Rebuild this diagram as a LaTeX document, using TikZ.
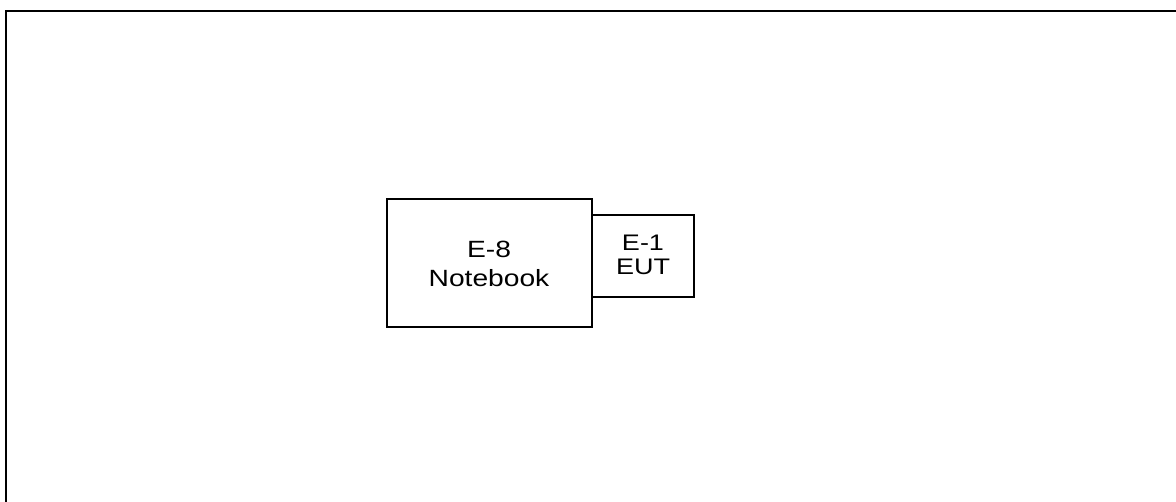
\documentclass[tikz,border=0pt]{standalone}
\usepackage{fontspec}
\setmainfont{Liberation Sans}
\begin{document}
\begin{tikzpicture}[x=1pt,y=-1pt,
  box/.style={draw=black,line width=1.2pt,inner sep=0pt},
  lbl/.style={align=center,inner sep=0pt,anchor=base,xscale=1.2}]
\useasboundingbox (0,0) rectangle (1176,501);
\fill[white] (0,0) rectangle (1176,501);
\begin{scope}
\clip (0,0) rectangle (1176,501);
\draw[line width=2pt] (6,520) -- (6,11) -- (1200,11);
\end{scope}
\draw[box] (387,199) rectangle (592,327);
\draw[box] (592,215) rectangle (694,297);
\node[lbl,font=\fontsize{23.5}{29}\selectfont] (nb) at (489,286) {E-8\\Notebook};
\node[lbl,font=\fontsize{22.5}{23.5}\selectfont] (eut) at (643,274) {E-1\\EUT};
\end{tikzpicture}
\end{document}
